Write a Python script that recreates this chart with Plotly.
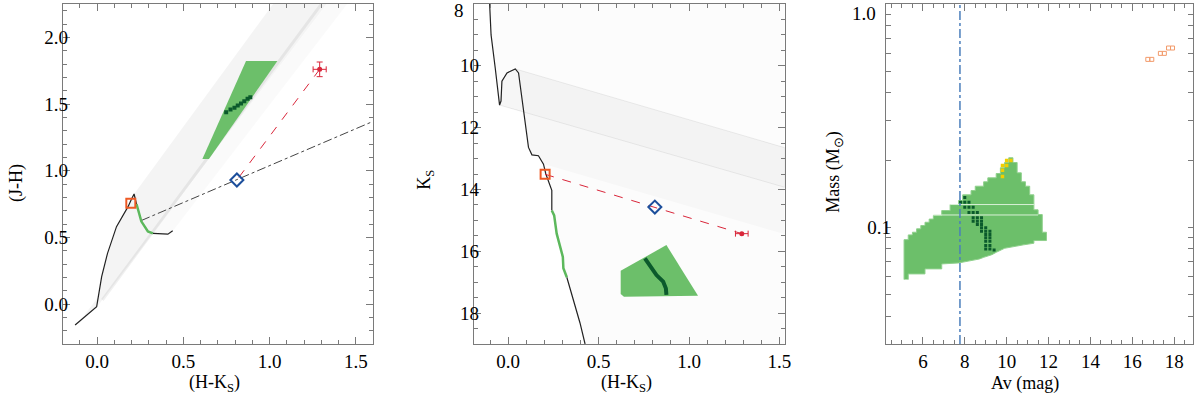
import plotly.graph_objects as go

FONT = "Liberation Serif"
FRAME = "#7a7a7a"
GREEN = "#6cbf6a"
DKGREEN = "#0b5a2c"
ISO_GREEN = "#5cb85c"
ORANGE = "#ee5a24"
BLUE = "#1d4f9c"
RED = "#d9263a"

# ---------------- panel 1 : (J-H) vs (H-Ks)
cc_iso_a_hk = [-0.128, -0.003, 0.026, 0.06, 0.112, 0.179, 0.2, 0.214, 0.228]
cc_iso_a_jh = [-0.158, -0.02, 0.205, 0.38, 0.58, 0.73, 0.79, 0.825, 0.75]
cc_iso_g_hk = [0.228, 0.246, 0.256, 0.294, 0.323]
cc_iso_g_jh = [0.75, 0.67, 0.62, 0.544, 0.53]
cc_iso_b_hk = [0.323, 0.41, 0.438]
cc_iso_b_jh = [0.53, 0.524, 0.549]

cc_band_hk = [-0.12, 0.005, 0.026, 0.112, 0.179, 0.214, 1.02, 1.33, 0.0, -0.12]
cc_band_jh = [-0.16, 0.05, 0.205, 0.58, 0.73, 0.825, 2.25, 2.25, -0.02, -0.16]
cc_faint_hk = [0.322, 0.41, 0.44, 1.45, 1.33]
cc_faint_jh = [0.53, 0.524, 0.55, 2.25, 2.25]
cc_streak_hk = [0.03, 1.30]
cc_streak_jh = [0.03, 2.25]

cc_locus_hk = [0.256, 1.6]
cc_locus_jh = [0.626, 1.37]

cc_fit_hk = [0.61, 0.863, 1.045, 0.648]
cc_fit_jh = [1.088, 1.822, 1.822, 1.088]
cc_best_hk = [0.748, 0.773, 0.796, 0.815, 0.834, 0.853, 0.872, 0.888]
cc_best_jh = [1.438, 1.459, 1.471, 1.489, 1.504, 1.521, 1.539, 1.551]

cc_obs = (1.29, 1.76)
cc_obs_err = (0.038, 0.055)
cc_dered = (0.81, 0.93)
cc_model = (0.195, 0.755)

# ---------------- panel 2 : Ks vs (H-Ks)
cmd_iso_a_hk = [-0.103, -0.095, -0.072, -0.048, -0.04, -0.035, -0.007, 0.039, 0.057,
                0.084, 0.112, 0.131, 0.167, 0.195, 0.208, 0.241, 0.241]
cmd_iso_a_ks = [8.0, 9.0, 10.07, 11.27, 11.14, 10.5, 10.23, 10.1, 10.23,
                11.46, 12.64, 12.88, 12.91, 13.18, 13.5, 14.03, 14.68]
cmd_iso_g_hk = [0.241, 0.254, 0.268, 0.302, 0.305, 0.324]
cmd_iso_g_ks = [14.68, 14.84, 15.43, 16.18, 16.55, 16.84]
cmd_iso_b_hk = [0.324, 0.36, 0.397, 0.425]
cmd_iso_b_ks = [16.84, 17.57, 18.32, 19.0]

cmd_faint_hk = [-0.103, 1.53, 1.53, 0.425, 0.397, 0.36, 0.324, 0.305, 0.302, 0.268,
                0.254, 0.241, 0.241, 0.208, 0.195, 0.167, 0.131, 0.112, 0.084, 0.057,
                0.039, -0.007, -0.035, -0.04, -0.048, -0.072, -0.095]
cmd_faint_ks = [8.0, 8.0, 19.0, 19.0, 18.32, 17.57, 16.84, 16.55, 16.18, 15.43,
                14.84, 14.68, 14.03, 13.5, 13.18, 12.91, 12.88, 12.64, 11.46, 10.23,
                10.1, 10.23, 10.5, 11.14, 11.27, 10.07, 9.0]
cmd_mid_hk = [-0.048, 0.084, 0.112, 0.131, 0.167, 0.195, 1.53, 1.53]
cmd_mid_ks = [11.27, 11.46, 12.64, 12.88, 12.91, 13.18, 15.45, 13.93]
cmd_band_hk = [0.039, 1.53, 1.53, -0.048, -0.04, -0.035, -0.007, 0.039]
cmd_band_ks = [10.1, 12.65, 13.93, 11.27, 11.14, 10.5, 10.23, 10.1]

cmd_fit_hk = [0.622, 0.875, 1.05, 0.64, 0.622]
cmd_fit_ks = [16.63, 15.8, 17.44, 17.47, 17.38]
cmd_best_hk = [0.756, 0.79, 0.82, 0.857, 0.872, 0.875]
cmd_best_ks = [16.23, 16.5, 16.77, 16.98, 17.2, 17.41]

cmd_obs = (1.292, 15.43)
cmd_obs_err = 0.035
cmd_dered = (0.811, 14.57)
cmd_model = (0.204, 13.51)

# ---------------- panel 3 : mass vs Av
mav_fit_av = [5.1, 5.1, 5.3, 5.3, 5.5, 5.5, 5.7, 5.7, 5.9, 5.9, 6.1, 6.1, 6.3, 6.3, 6.5, 6.5,
              6.9, 6.9, 7.3, 7.3, 7.7, 7.7, 7.9, 7.9, 8.3, 8.3, 8.5, 8.5, 8.9, 8.9, 9.1, 9.1,
              9.5, 9.5, 9.7, 9.7, 9.9, 9.9, 10.1, 10.1, 10.3, 10.3, 10.5, 10.5, 10.7, 10.7,
              10.9, 10.9, 11.1, 11.1, 11.3, 11.3, 11.5, 11.5, 11.7, 11.7, 11.9, 11.9,
              11.3, 11.3, 10.8, 9.9, 9.5, 9.3, 8.9, 8.7, 8.3, 8.1, 7.7, 6.9, 6.9, 6.1, 6.1,
              5.3, 5.3]
mav_fit_m = [0.0583, 0.088, 0.088, 0.0924, 0.0924, 0.095, 0.095, 0.0984, 0.0984, 0.1018,
             0.1018, 0.1053, 0.1053, 0.1088, 0.1088, 0.1128, 0.1128, 0.1188, 0.1188, 0.1264,
             0.1264, 0.1317, 0.1317, 0.1397, 0.1397, 0.146, 0.146, 0.1527, 0.1527, 0.1598,
             0.1598, 0.1665, 0.1665, 0.1741, 0.1741, 0.1846, 0.1846, 0.195, 0.195, 0.2048,
             0.2048, 0.195, 0.195, 0.1753, 0.1753, 0.1598, 0.1598, 0.1527, 0.1527, 0.1397,
             0.1397, 0.1197, 0.1197, 0.114, 0.114, 0.095, 0.095, 0.0872, 0.0872, 0.0848,
             0.0834, 0.0805, 0.0772, 0.0754, 0.0733, 0.0721, 0.0709, 0.0702, 0.0692, 0.0685,
             0.0651, 0.0651, 0.0618, 0.0618, 0.0583]
mav_gap_m = [0.1135, 0.1264]
mav_gap_av0 = [6.5, 7.3]
mav_gap_av1 = [11.5, 11.3]

mav_best_av = [8.0, 7.8, 8.0, 8.2, 8.0, 8.2, 8.4, 8.2, 8.4, 8.6, 8.4, 8.6, 8.8, 8.4, 8.6, 8.8,
               8.6, 8.8, 8.8, 9.0, 8.8, 9.0, 9.2, 9.0, 9.2, 9.0, 9.2, 9.0, 9.2, 9.0, 9.2, 9.0,
               9.2, 9.4]
mav_best_m = [0.1359, 0.1295, 0.1295, 0.1295, 0.1229, 0.1229, 0.1229, 0.1164, 0.1164, 0.1164,
              0.1102, 0.1102, 0.1102, 0.1064, 0.1064, 0.1064, 0.1028, 0.1028, 0.0994, 0.0994,
              0.0959, 0.0959, 0.0959, 0.0927, 0.0927, 0.0897, 0.0897, 0.0866, 0.0866, 0.0828,
              0.0828, 0.0800, 0.0800, 0.0790]
mav_alt_av = [10.0, 10.2, 9.8, 10.0, 9.8, 9.8]
mav_alt_m = [0.199, 0.199, 0.189, 0.189, 0.18, 0.169]
mav_far_av = [16.74, 16.93, 17.34, 17.53, 17.73, 17.92]
mav_far_m = [0.565, 0.565, 0.601, 0.601, 0.635, 0.635]
av_star = 7.77

mass_ticks = [0.04, 0.05, 0.06, 0.07, 0.08, 0.09, 0.1,
              0.2, 0.3, 0.4, 0.5, 0.6, 0.7, 0.8, 0.9, 1.0]
mass_labels = ["0.1" if v == 0.1 else "" for v in mass_ticks]

fig = go.Figure()


def add(xa, ya, **kw):
    kw.setdefault("showlegend", False)
    kw.setdefault("hoverinfo", "skip")
    fig.add_trace(go.Scatter(xaxis=xa, yaxis=ya, **kw))


def poly(xa, ya, x, y, color, line="rgba(0,0,0,0)", lw=0):
    add(xa, ya, x=x, y=y, mode="lines", fill="toself", fillcolor=color,
        line=dict(color=line, width=lw))


# panel 1
poly("x", "y", cc_band_hk, cc_band_jh, "rgba(0,0,0,0.045)")
poly("x", "y", cc_faint_hk, cc_faint_jh, "rgba(0,0,0,0.018)")
add("x", "y", x=cc_streak_hk, y=cc_streak_jh, mode="lines",
    line=dict(color="rgba(0,0,0,0.06)", width=3))
poly("x", "y", cc_fit_hk, cc_fit_jh, GREEN)
add("x", "y", x=cc_best_hk, y=cc_best_jh, mode="markers",
    marker=dict(symbol="square", size=4, color=DKGREEN))
add("x", "y", x=cc_locus_hk, y=cc_locus_jh, mode="lines",
    line=dict(color="#444", width=1, dash="dashdot"))
add("x", "y", x=cc_iso_a_hk, y=cc_iso_a_jh, mode="lines", line=dict(color="#222", width=1.2))
add("x", "y", x=cc_iso_b_hk, y=cc_iso_b_jh, mode="lines", line=dict(color="#222", width=1.2))
add("x", "y", x=cc_iso_g_hk, y=cc_iso_g_jh, mode="lines", line=dict(color=ISO_GREEN, width=2.5))
add("x", "y", x=[cc_obs[0], cc_dered[0]], y=[cc_obs[1], cc_dered[1]], mode="lines",
    line=dict(color=RED, width=1, dash="dash"))
add("x", "y", x=[cc_obs[0]], y=[cc_obs[1]], mode="markers",
    marker=dict(color=RED, size=5),
    error_x=dict(type="data", array=[cc_obs_err[0]], color=RED, thickness=1, width=3),
    error_y=dict(type="data", array=[cc_obs_err[1]], color=RED, thickness=1, width=3))
add("x", "y", x=[cc_dered[0]], y=[cc_dered[1]], mode="markers",
    marker=dict(symbol="diamond-open", size=10, color=BLUE, line=dict(width=2, color=BLUE)))
add("x", "y", x=[cc_model[0]], y=[cc_model[1]], mode="markers",
    marker=dict(symbol="square-open", size=9, color=ORANGE, line=dict(width=2, color=ORANGE)))

# panel 2
poly("x2", "y2", cmd_faint_hk, cmd_faint_ks, "rgba(0,0,0,0.012)")
poly("x2", "y2", cmd_mid_hk, cmd_mid_ks, "rgba(0,0,0,0.02)")
poly("x2", "y2", cmd_band_hk, cmd_band_ks, "rgba(0,0,0,0.035)", "rgba(0,0,0,0.07)", 1)
poly("x2", "y2", cmd_fit_hk, cmd_fit_ks, GREEN)
add("x2", "y2", x=cmd_best_hk, y=cmd_best_ks, mode="lines", line=dict(color=DKGREEN, width=4))
add("x2", "y2", x=cmd_iso_a_hk, y=cmd_iso_a_ks, mode="lines", line=dict(color="#222", width=1.2))
add("x2", "y2", x=cmd_iso_b_hk, y=cmd_iso_b_ks, mode="lines", line=dict(color="#222", width=1.2))
add("x2", "y2", x=cmd_iso_g_hk, y=cmd_iso_g_ks, mode="lines", line=dict(color=ISO_GREEN, width=2.5))
add("x2", "y2", x=[cmd_model[0], cmd_obs[0]], y=[cmd_model[1], cmd_obs[1]], mode="lines",
    line=dict(color=RED, width=1, dash="dash"))
add("x2", "y2", x=[cmd_obs[0]], y=[cmd_obs[1]], mode="markers",
    marker=dict(color=RED, size=5),
    error_x=dict(type="data", array=[cmd_obs_err], color=RED, thickness=1, width=3))
add("x2", "y2", x=[cmd_dered[0]], y=[cmd_dered[1]], mode="markers",
    marker=dict(symbol="diamond-open", size=10, color=BLUE, line=dict(width=2, color=BLUE)))
add("x2", "y2", x=[cmd_model[0]], y=[cmd_model[1]], mode="markers",
    marker=dict(symbol="square-open", size=9, color=ORANGE, line=dict(width=2, color=ORANGE)))

# panel 3
poly("x3", "y3", mav_fit_av, mav_fit_m, GREEN, "#8fd08c", 1)
for m, a0, a1 in zip(mav_gap_m, mav_gap_av0, mav_gap_av1):
    add("x3", "y3", x=[a0, a1], y=[m, m], mode="lines", line=dict(color="#d8f0d6", width=1))
add("x3", "y3", x=mav_best_av, y=mav_best_m, mode="markers",
    marker=dict(symbol="square", size=3, color=DKGREEN))
add("x3", "y3", x=mav_alt_av, y=mav_alt_m, mode="markers",
    marker=dict(symbol="square", size=3.5, color="#f2cf00"))
add("x3", "y3", x=mav_far_av, y=mav_far_m, mode="markers",
    marker=dict(symbol="square-open", size=4, color="#f29a6a", line=dict(width=1)))
add("x3", "y3", x=[av_star, av_star], y=[0.03, 1.0], mode="lines",
    line=dict(color="#4a7ebb", width=1.5, dash="dashdot"))


def axis(domain, rng, dtick, mdtick, anchor, fmt, **kw):
    d = dict(domain=domain, range=rng, anchor=anchor, showline=True, mirror="allticks",
             linecolor=FRAME, linewidth=1, ticks="inside", ticklen=7, tickwidth=1,
             tickcolor=FRAME, showgrid=False, zeroline=False, tickformat=fmt,
             tickfont=dict(family=FONT, size=19, color="black"))
    if dtick is not None:
        d.update(tick0=0, dtick=dtick)
    if mdtick is not None:
        d["minor"] = dict(ticks="inside", ticklen=4, tickcolor=FRAME, tick0=0, dtick=mdtick)
    d.update(kw)
    return d


DX = 3 / 1200  # nudge every panel a few pixels right
XSO = 0        # x tick label standoff
YSO = -10      # y tick label standoff

fig.update_layout(
    width=1200, height=395,
    margin=dict(l=0, r=0, t=4, b=51),
    paper_bgcolor="white", plot_bgcolor="white",
    font=dict(family=FONT, size=18, color="black"),
    xaxis=axis([0.05 + DX, 0.31 + DX], [-0.2, 1.6], 0.5, 0.1, "y", ".1f",
               ticklabelstandoff=XSO),
    yaxis=axis([0, 1], [-0.3, 2.25], 0.5, 0.1, "x", ".1f", ticklabelstandoff=YSO),
    xaxis2=axis([0.3944 + DX, 0.6548 + DX], [-0.19, 1.53], 0.5, 0.1, "y2", ".1f",
                ticklabelstandoff=XSO),
    yaxis2=axis([0, 1], [19, 8], None, 0.5, "x2", "d", tickmode="array",
                tickvals=[8, 10, 12, 14, 16, 18], ticktext=["", "10", "12", "14", "16", "18"],
                ticklabelstandoff=YSO),
    xaxis3=axis([0.7394 + DX, 0.9992], [4.23, 18.9], 2, 0.5, "y3", "d",
                ticklabelstandoff=XSO),
    yaxis3=axis([0, 1], [-1.5229, 0], None, None, "x3", None, type="log", tickmode="array",
                tickvals=mass_ticks, ticktext=mass_labels, ticklen=5, ticklabelstandoff=YSO),
)


def label(text, x, y, angle=0, xanchor="center", size=18):
    fig.add_annotation(text=text, x=x / 1200, y=(344 - y) / 340, xref="paper", yref="paper",
                       showarrow=False, textangle=angle, xanchor=xanchor, yanchor="middle",
                       font=dict(family=FONT, size=size, color="black"))


label("(H-K<sub>S</sub>)", 216, 383)
label("(H-K<sub>S</sub>)", 630, 383)
label("Av (mag)", 1030, 383)
label("(J-H)", 16, 183, -90)
label("K<sub>S</sub>", 428, 180, -90)
label("Mass (M<sub>\u2299</sub>)", 838, 172, -90)
label("8", 468, 10, xanchor="right", size=19)
label("1.0", 882, 13, xanchor="right", size=19)

# the page body has an 8px default margin; drop it so the figure sits at the origin
fig.write_html("out.html", config={"displayModeBar": False},
               post_script="document.body.style.margin='0';")
